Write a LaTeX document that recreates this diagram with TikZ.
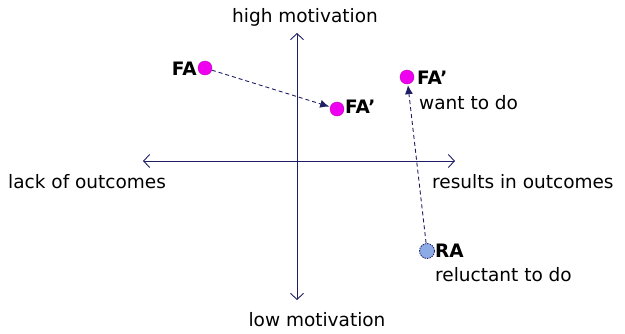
\documentclass[tikz,border=0pt]{standalone}
\usepackage{fontspec}
\setmainfont{DejaVu Sans}
\usetikzlibrary{arrows.meta}
\definecolor{navy}{RGB}{30,30,100}
\definecolor{mag}{RGB}{240,0,240}
\definecolor{lblue}{RGB}{140,170,230}
\begin{document}
\begin{tikzpicture}[x=1pt,y=-1pt,
  axis/.style={draw=navy,line width=0.9pt,{Straight Barb[length=6pt,width=13pt]}-{Straight Barb[length=6pt,width=13pt]}},
  dot/.style={circle,fill=mag,draw=mag!80!black,line width=0.4pt,minimum size=14pt,inner sep=0pt},
  radot/.style={circle,fill=lblue,draw=navy,dash pattern=on 1.5pt off 1pt,line width=0.8pt,minimum size=15pt,inner sep=0pt},
  move/.style={draw=navy,line width=0.9pt,dash pattern=on 4pt off 3pt,-{Latex[length=9pt,width=8pt]},shorten >=1pt},
  lab/.style={font=\fontsize{18.5}{21}\selectfont,inner sep=0pt},
  blab/.style={font=\fontsize{18.5}{21}\selectfont\bfseries,inner sep=0pt}]
\useasboundingbox (0,0) rectangle (625,333);
\coordinate (L) at (143,161);
\coordinate (R) at (455,161);
\coordinate (T) at (297,33);
\coordinate (B) at (297,300);
\draw[axis] (L) -- (R);
\draw[axis] (T) -- (B);
\node[lab,anchor=center] (hm) at (305,17) {high motivation};
\node[lab,anchor=center] (lm) at (317,320) {low motivation};
\node[lab,anchor=west] (lo) at (8,182) {lack of outcomes};
\node[lab,anchor=west] (ro) at (432,182) {results in outcomes};
\node[dot] (fa) at (205,68) {};
\node[dot] (fa2) at (337,109) {};
\node[dot] (fa3) at (407,77) {};
\node[radot] (ra) at (427,251) {};
\node[blab,anchor=east] (tfa) at (197,69) {FA};
\node[blab,anchor=west] (tfa2) at (345,107) {FA’};
\node[blab,anchor=west] (tfa3) at (417,78) {FA’};
\node[lab,anchor=west] (want) at (419,103) {want to do};
\node[blab,anchor=west] (tra) at (435,251) {RA};
\node[lab,anchor=west] (rel) at (435,275) {reluctant to do};
\draw[move] (fa) -- (fa2);
\draw[move] (ra) -- (fa3);
\end{tikzpicture}
\end{document}
